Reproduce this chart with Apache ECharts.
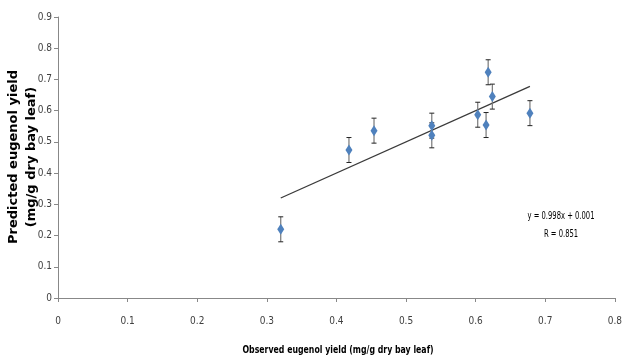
<!DOCTYPE html>
<html><head><meta charset="utf-8">
<script src="https://cdn.jsdelivr.net/npm/echarts@6/dist/echarts.min.js"></script>
<style>html,body{margin:0;padding:0;background:#fff}#c{width:625px;height:360px}</style>
</head><body><div id="c"></div>
<script>
const observed  = [0.32, 0.418, 0.454, 0.537, 0.537, 0.603, 0.615, 0.618, 0.624, 0.678];
const predicted = [0.22, 0.474, 0.536, 0.552, 0.521, 0.587, 0.554, 0.723, 0.645, 0.592];
const errors    = [0.04, 0.04, 0.04, 0.04, 0.04, 0.04, 0.04, 0.04, 0.04, 0.04];
const slope = 0.998, intercept = 0.001;
const equationText = 'y = 0.998x + 0.001';
const rText = 'R = 0.851';
const xTitle = 'Observed eugenol yield (mg/g dry bay leaf)';
const yTitle1 = 'Predicted eugenol yield';
const yTitle2 = '(mg/g dry bay leaf)';

const narrow = '"Liberation Sans Narrow","DejaVu Sans Condensed",sans-serif';
const pts = observed.map((x, i) => [x, predicted[i]]);
const errData = observed.map((x, i) => [x, predicted[i] - errors[i], predicted[i] + errors[i]]);
const xMin = Math.min(...observed), xMax = Math.max(...observed);
const trend = [[xMin, slope * xMin + intercept], [xMax, slope * xMax + intercept]];

const chart = echarts.init(document.getElementById('c'), null, {renderer: 'canvas'});
chart.setOption({
  animation: false,
  backgroundColor: '#fff',
  grid: {left: 58, right: 7, top: 17, bottom: 62, containLabel: false},
  xAxis: {
    type: 'value', min: 0, max: 0.8, interval: 0.1,
    axisLine: {show: true, lineStyle: {color: '#888', width: 1}},
    axisTick: {show: true, length: 4, lineStyle: {color: '#888'}},
    axisLabel: {color: '#404040', fontSize: 10, fontFamily: narrow, margin: 18},
    splitLine: {show: false}
  },
  yAxis: {
    type: 'value', min: 0, max: 0.9, interval: 0.1,
    axisLine: {show: true, lineStyle: {color: '#888', width: 1}},
    axisTick: {show: true, length: 4, lineStyle: {color: '#888'}},
    axisLabel: {color: '#404040', fontSize: 10, fontFamily: narrow, margin: 6},
    splitLine: {show: false}
  },
  series: [
    {
      type: 'line', data: trend, symbol: 'none', silent: true, z: 1,
      lineStyle: {color: '#3a3a3a', width: 1.3}
    },
    {
      type: 'custom', z: 2,
      data: errData,
      encode: {x: 0, y: [1, 2]},
      renderItem: function (params, api) {
        const x = api.value(0);
        const lo = api.coord([x, api.value(1)]);
        const hi = api.coord([x, api.value(2)]);
        const cw = 2.5;
        const st = {stroke: '#222', lineWidth: 1};
        return {type: 'group', children: [
          {type: 'line', shape: {x1: lo[0], y1: lo[1], x2: hi[0], y2: hi[1]}, style: {stroke: '#777', lineWidth: 1.2}},
          {type: 'line', shape: {x1: lo[0] - cw, y1: lo[1], x2: lo[0] + cw, y2: lo[1]}, style: st},
          {type: 'line', shape: {x1: hi[0] - cw, y1: hi[1], x2: hi[0] + cw, y2: hi[1]}, style: st}
        ]};
      }
    },
    {
      type: 'scatter', data: pts, z: 3,
      symbol: 'diamond', symbolSize: [7, 11],
      itemStyle: {color: '#4F81BD', opacity: 1}
    }
  ],
  graphic: [
    {type: 'text', x: 338, y: 350, scaleX: 0.71,
     style: {text: xTitle, font: 'bold 11px "DejaVu Sans",sans-serif', fill: '#000', align: 'center', verticalAlign: 'middle'}},
    {type: 'text', x: 561, y: 216, scaleX: 0.68,
     style: {text: equationText, font: '10px "DejaVu Sans",sans-serif', fill: '#000', align: 'center', verticalAlign: 'middle'}},
    {type: 'text', x: 561, y: 234, scaleX: 0.68,
     style: {text: rText, font: '10px "DejaVu Sans",sans-serif', fill: '#000', align: 'center', verticalAlign: 'middle'}},
    {type: 'text', x: 14, y: 157, rotation: Math.PI / 2,
     style: {text: yTitle1, font: 'bold 13px "DejaVu Sans",sans-serif', fill: '#000', align: 'center', verticalAlign: 'middle'}},
    {type: 'text', x: 32, y: 157, rotation: Math.PI / 2,
     style: {text: yTitle2, font: 'bold 13px "DejaVu Sans",sans-serif', fill: '#000', align: 'center', verticalAlign: 'middle'}}
  ]
});
</script></body></html>
